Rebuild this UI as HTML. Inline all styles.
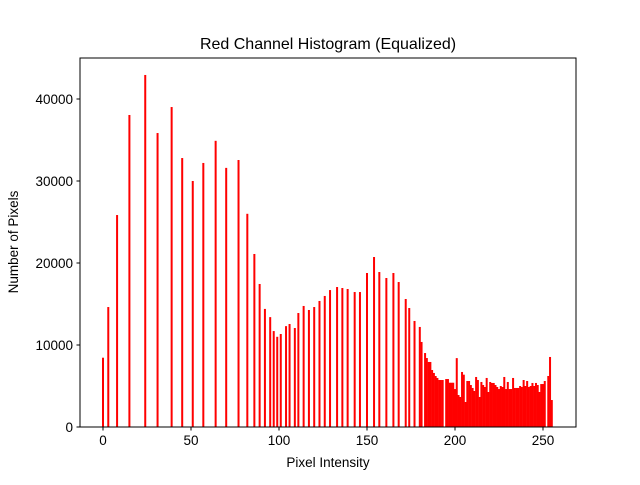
<!DOCTYPE html>
<html><head><meta charset="utf-8"><style>
body{margin:0;background:#fff;}
svg text{font-family:"Liberation Sans","DejaVu Sans",sans-serif;fill:#000;}
</style></head><body>
<svg id="chart" width="640" height="480" xmlns="http://www.w3.org/2000/svg">
<rect x="0" y="0" width="640" height="480" fill="#fff"/>
<text x="328" y="49" font-size="16" text-anchor="middle">Red Channel Histogram (Equalized)</text>
<g id="bars"></g>
<rect x="80" y="58" width="496" height="369" fill="none" stroke="#000" stroke-width="1"/>
<g id="xticks"></g>
<g id="yticks"></g>
<text x="328" y="467" font-size="13.5" text-anchor="middle">Pixel Intensity</text>
<text x="18" y="242" font-size="13.5" text-anchor="middle" transform="rotate(-90 18 242)">Number of Pixels</text>
</svg>
<script>
const binsA = [0,3,8,15,24,31,39,45,51,57,64,70,77,82,86,89,92,95,97,99,101,104,106,109,111,114,117,120,123,126,129,133,136,139,143,146,150,154,157,161,165,168,172,174,177,180,181,183,184,185,186,187,188,189,190,191,192,193,195,196];
const countsA = [8450,14630,25850,38050,42930,35850,39020,32800,30000,32200,34900,31600,32560,26000,21100,17440,14400,13400,11700,11000,11340,12300,12560,12070,13900,14760,14270,14630,15370,15980,16700,17070,16950,16830,16460,16460,18780,20730,18900,18170,18780,17680,15610,14510,12930,12200,10370,9020,8410,7930,7930,6950,6590,6220,5980,5730,5730,5730,5850,5850];
const countsTail = [5400,5400,5400,4630,8400,3900,3660,6710,6380,3050,5610,5610,5120,4760,4390,6100,5730,3660,5490,5120,4880,5980,4270,5490,5370,5370,5120,4880,4630,5000,4880,6100,4630,5490,4630,4630,5980,4760,4760,4760,5000,4880,5730,5000,5610,4880,5000,5370,5000,5370,5120,4270,5240,5240,5610,0,6220,8540,3290];
const tailStart = 197;
const xTicks = [0,50,100,150,200,250];
const yTicks = [0,10000,20000,30000,40000];

const NS='http://www.w3.org/2000/svg';
function xS(v){return 103 + v*1.76;}
function yS(c){return 427 - c*0.0082;}
const counts = new Array(256).fill(0);
binsA.forEach((b,i)=>{counts[b]=countsA[i];});
countsTail.forEach((c,i)=>{counts[tailStart+i]=c;});
const gb=document.getElementById('bars');
counts.forEach((c,i)=>{
  if(c<=0) return;
  const r=document.createElementNS(NS,'rect');
  const w=2;
  r.setAttribute('x',xS(i)-w/2);
  r.setAttribute('y',yS(c));
  r.setAttribute('width',w);
  r.setAttribute('height',yS(0)-yS(c));
  r.setAttribute('fill','#ff0000');
  
  
  gb.appendChild(r);
});
const gx=document.getElementById('xticks');
xTicks.forEach(t=>{
  const l=document.createElementNS(NS,'line');
  l.setAttribute('x1',xS(t));l.setAttribute('x2',xS(t));
  l.setAttribute('y1',427);l.setAttribute('y2',430.5);
  l.setAttribute('stroke','#000');
  
  
  gx.appendChild(l);
  const tx=document.createElementNS(NS,'text');
  tx.setAttribute('x',xS(t));tx.setAttribute('y',445);
  tx.setAttribute('font-size','13.5');tx.setAttribute('text-anchor','middle');
  tx.textContent=t;
  
  
  gx.appendChild(tx);
});
const gy=document.getElementById('yticks');
yTicks.forEach(t=>{
  const l=document.createElementNS(NS,'line');
  l.setAttribute('x1',76.5);l.setAttribute('x2',80);
  l.setAttribute('y1',yS(t));l.setAttribute('y2',yS(t));
  l.setAttribute('stroke','#000');
  
  
  gy.appendChild(l);
  const tx=document.createElementNS(NS,'text');
  tx.setAttribute('x',73);tx.setAttribute('y',yS(t)+5);
  tx.setAttribute('font-size','13.5');tx.setAttribute('text-anchor','end');
  tx.textContent=t;
  
  
  gy.appendChild(tx);
});
</script>
</body></html>
